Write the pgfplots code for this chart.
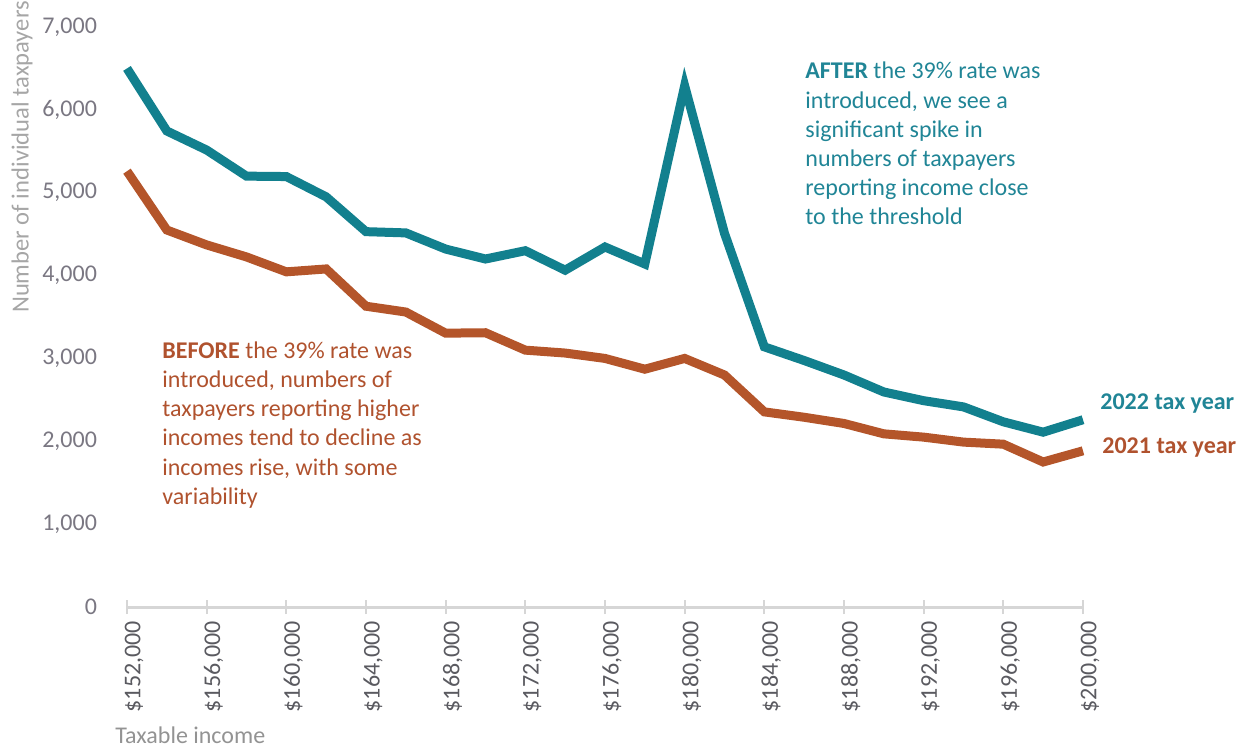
\documentclass[border=0pt]{standalone}
\usepackage{pgfplots}
\pgfplotsset{compat=1.18}
\usepackage{fontspec}
\setmainfont{Carlito}

\definecolor{line22}{RGB}{18,128,142}
\definecolor{line21}{RGB}{180,85,42}
\definecolor{text22}{RGB}{32,133,150}
\definecolor{text21}{RGB}{176,82,46}
\definecolor{ytk}{RGB}{122,119,130}
\definecolor{xtk}{RGB}{90,90,96}
\definecolor{axgrey}{RGB}{214,214,214}

% taxable income, 2021 tax year, 2022 tax year
\pgfplotstableread{
inc    y21   y22
152000 5260  6500
154000 4550  5745
156000 4370  5515
158000 4225  5200
160000 4045  5195
162000 4080  4950
164000 3630  4530
166000 3560  4515
168000 3305  4320
170000 3310  4200
172000 3100  4300
174000 3065  4065
176000 3000  4345
178000 2870  4140
180000 3000  6290
182000 2800  4510
184000 2355  3140
186000 2290  2975
188000 2215  2800
190000 2090  2595
192000 2050  2490
194000 1990  2415
196000 1965  2235
198000 1750  2110
200000 1885  2260
}\taxdata

\begin{document}
\begin{tikzpicture}
\useasboundingbox (-63.5bp,-70.5bp) rectangle (559bp,303.5bp);
\begin{axis}[
  scale only axis, width=478bp, height=290bp,
  xmin=152000, xmax=200000, ymin=0, ymax=7000,
  axis lines=left, axis line style={-},
  x axis line style={draw=axgrey, line width=1.5bp},
  y axis line style={draw=none},
  scaled x ticks=false,
  xtick={152000,156000,...,200000},
  xticklabels={{\$152,000},{\$156,000},{\$160,000},{\$164,000},{\$168,000},{\$172,000},
    {\$176,000},{\$180,000},{\$184,000},{\$188,000},{\$192,000},{\$196,000},{\$200,000}},
  x tick label style={rotate=90, anchor=east, yshift=-3.5bp,
    font=\fontsize{12bp}{13bp}\selectfont, text=xtk},
  ytick={0,1000,...,7000},
  yticklabels={0,{1,000},{2,000},{3,000},{4,000},{5,000},{6,000},{7,000}},
  y tick label style={xshift=-8bp, font=\fontsize{12bp}{13bp}\selectfont, text=ytk},
  x tick style={draw=axgrey, line width=1bp},
  y tick style={draw=none},
  major tick length=7bp, tick align=center,
  clip=false,
]
\addplot[line21, line width=4.5bp, no markers] table[x=inc, y=y21] {\taxdata};
\addplot[line22, line width=4.5bp, no markers] table[x=inc, y=y22] {\taxdata};
\end{axis}

\begin{scope}[font=\fontsize{12bp}{14.6bp}\selectfont]
% base of a multi-line node = baseline of its last line
\node[anchor=base west, align=left, inner sep=0, text=text21] at (17.5bp,51.3bp)
  {\textbf{BEFORE} the 39\% rate was\\ introduced, numbers of\\ taxpayers reporting higher\\
   incomes tend to decline as\\ incomes rise, with some\\ variability};
\node[anchor=base west, align=left, inner sep=0, text=text22] at (339bp,191bp)
  {\textbf{AFTER} the 39\% rate was\\ introduced, we see a\\ significant spike in\\
   numbers of taxpayers\\ reporting income close\\ to the threshold};
\node[anchor=west, inner sep=0, text=text22, font=\fontsize{12bp}{14bp}\selectfont\bfseries] at (486.5bp,101.5bp) {2022 tax year};
\node[anchor=west, inner sep=0, text=text21, font=\fontsize{12bp}{14bp}\selectfont\bfseries] at (487.5bp,79.5bp) {2021 tax year};
\node[rotate=90, inner sep=0, text=gray!70, font=\fontsize{12.3bp}{14bp}\selectfont] at (-52.5bp,225bp) {Number of individual taxpayers};
\node[anchor=west, inner sep=0, text=gray!85] at (-6bp,-64bp) {Taxable income};
\end{scope}
\end{tikzpicture}
\end{document}
